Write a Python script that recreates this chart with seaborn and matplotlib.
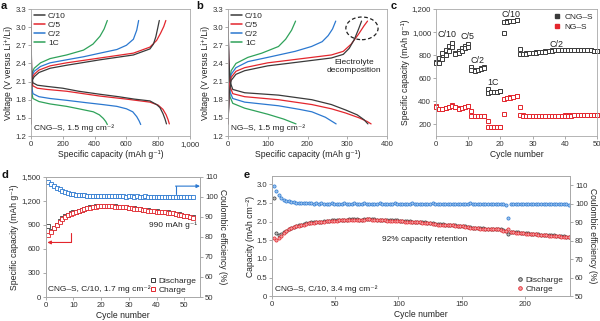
import numpy as np
import pandas as pd
import matplotlib
matplotlib.use("Agg")
import matplotlib.pyplot as plt
import seaborn as sns
from matplotlib.lines import Line2D
from matplotlib.patches import Ellipse
from matplotlib.ticker import FuncFormatter, MultipleLocator

# ---------------- DATA ----------------
RATES = ["C/10", "C/5", "C/2", "1C"]

# Panel a (CNG-S) voltage profiles: (capacity mAh/g, voltage V)
A_C10_DIS = [(0,3.10),(2,2.60),(5,2.20),(12,2.08),(40,2.04),(100,2.02),(200,1.99),(300,1.94),(434,1.89),(550,1.85),(650,1.81),(748,1.78),(790,1.72),(811,1.67),(830,1.57),(843,1.48),(852,1.40)]
A_C5_DIS = [(0,3.10),(2,2.55),(5,2.12),(12,2.03),(40,1.99),(100,1.97),(224,1.94),(434,1.86),(600,1.81),(748,1.76),(800,1.71),(830,1.64),(850,1.55),(862,1.47),(870,1.40)]
A_C2_DIS = [(0,3.10),(2,2.45),(5,2.00),(12,1.90),(50,1.85),(120,1.82),(224,1.79),(350,1.75),(450,1.72),(540,1.69),(600,1.65),(640,1.60),(665,1.52),(680,1.45),(690,1.39)]
A_1C_DIS = [(0,3.10),(2,2.40),(5,1.92),(12,1.82),(50,1.77),(120,1.73),(224,1.69),(300,1.65),(392,1.60),(430,1.55),(455,1.49),(470,1.44),(480,1.39)]
A_C10_CHG = [(0,1.40),(3,1.95),(8,2.12),(20,2.18),(50,2.25),(120,2.32),(224,2.37),(434,2.46),(644,2.54),(748,2.64),(770,2.72),(785,2.84),(795,2.96),(807,3.11)]
A_C5_CHG = [(0,1.40),(3,2.00),(8,2.16),(20,2.22),(50,2.29),(120,2.36),(224,2.41),(434,2.49),(644,2.57),(748,2.67),(790,2.78),(815,2.90),(835,3.01),(848,3.11)]
A_C2_CHG = [(0,1.40),(3,2.05),(8,2.20),(20,2.27),(60,2.35),(120,2.41),(224,2.46),(330,2.51),(434,2.57),(540,2.63),(600,2.70),(644,2.80),(665,2.95),(677,3.11)]
A_1C_CHG = [(0,1.40),(3,2.10),(8,2.25),(20,2.32),(60,2.41),(120,2.48),(224,2.54),(330,2.62),(390,2.72),(434,2.85),(460,2.97),(480,3.11)]

# Panel b (NG-S) voltage profiles
B_C10_DIS = [(0,3.10),(2,2.50),(5,2.10),(12,1.97),(42,1.915),(127,1.876),(211,1.80),(260,1.72),(296,1.63),(325,1.55),(342,1.47),(352,1.40)]
B_C5_DIS = [(0,3.10),(2,2.45),(5,2.02),(12,1.90),(42,1.85),(127,1.80),(211,1.72),(260,1.65),(296,1.58),(330,1.50),(350,1.44),(360,1.40)]
B_C2_DIS = [(0,3.10),(2,2.40),(5,1.93),(12,1.82),(42,1.76),(127,1.70),(180,1.64),(211,1.60),(245,1.51),(272,1.40)]
B_1C_DIS = [(0,3.10),(2,2.30),(5,1.85),(12,1.74),(42,1.66),(100,1.56),(140,1.48),(171,1.40)]
B_C10_CHG = [(0,1.40),(3,1.90),(8,2.12),(20,2.22),(42,2.28),(100,2.36),(150,2.40),(211,2.45),(260,2.49),(290,2.55),(305,2.65),(318,2.80),(328,2.96),(336,3.10)]
B_C5_CHG = [(0,1.40),(3,1.95),(8,2.17),(20,2.27),(42,2.33),(100,2.41),(150,2.45),(211,2.50),(260,2.54),(290,2.60),(310,2.72),(328,2.88),(342,3.02),(351,3.10)]
B_C2_CHG = [(0,1.40),(3,2.00),(8,2.22),(20,2.33),(50,2.43),(100,2.50),(169,2.60),(210,2.68),(237,2.76),(252,2.86),(263,2.97),(271,3.10)]
B_1C_CHG = [(0,1.40),(3,2.05),(8,2.28),(20,2.40),(50,2.50),(85,2.57),(127,2.68),(145,2.80),(160,2.95),(170,3.10)]

# Panel c: rate capability, cycles 0..50
C_CYCLES = list(range(0, 51))
C_CNG_DIS = [740,775,815,845,880,905, 815,840,860,880,895, 695,670,675,685,695, 505,480,482,485,490,
             1085,1095,1098,1100,1105,
             855,810,815,820,822,825,828,830,833,838,842,845,846,847,847,847,847,846,846,846,845,844,842,840,838]
C_CNG_CHG = [735,730,765,805,840,870, 810,820,840,860,875, 668,665,672,680,690, 475,478,480,483,488,
             990,1090,1095,1098,1102,
             810,808,813,818,820,823,826,828,831,836,840,843,845,846,846,846,846,845,845,845,844,843,841,839,837]
C_NG_DIS = [358,335,335,345,355,365, 355,340,345,350,358, 318,272,270,270,271, 226,177,175,175,175,
            420,430,435,440,445,
            355,278,275,275,275,275,276,276,276,276,277,277,277,277,278,278,278,279,279,279,280,280,280,281,281]
C_NG_CHG = [355,332,333,343,352,362, 352,338,343,348,356, 275,270,269,269,270, 178,175,174,174,174,
            290,428,433,438,443,
            280,276,274,274,274,274,275,275,275,275,276,276,276,276,277,277,277,278,278,278,279,279,279,280,280]
C_RATE_LABELS = [("C/10", 3.4, 975), ("C/5", 9.8, 960), ("C/2", 12.9, 755), ("1C", 17.7, 560),
                 ("C/10", 23.3, 1155), ("C/2", 37.3, 895)]

# Panel d: cycling 1.7 mg/cm2, cycles 1..53
D_CHG = [775,815,855,895,935,970,1000,1020,1035,1050,
         1062,1075,1088,1098,1108,1115,1122,1128,1133,1136,
         1138,1138,1135,1132,1128,1125,1122,1120,1117,1112,
         1108,1102,1097,1092,1088,1082,1077,1073,1069,1066,
         1062,1058,1055,1052,1048,1042,1035,1028,1020,1012,
         1004,997,990]
D_DIS = [890,825,860,900,945,980,1008,1028,1042,1055,
         1066,1078,1090,1100,1110,1117,1124,1130,1135,1138,
         1140,1140,1137,1134,1130,1127,1124,1122,1119,1114,
         1110,1104,1099,1094,1090,1084,1079,1075,1071,1068,
         1064,1060,1057,1054,1050,1044,1037,1030,1022,1014,
         1006,999,992]
D_CE = [107.2,106.3,105.4,104.6,103.8,103.1,102.5,102.0,101.6,101.3,
        101.1,100.9,100.8,100.7,100.6,100.5,100.5,100.4,100.4,100.3,
        100.3,100.3,100.2,100.3,100.2,100.2,100.3,100.2,100.1,100.2,
        100.2,100.1,100.2,100.1,100.1,100.2,100.1,100.0,100.1,100.1,
        100.0,100.1,100.0,100.0,100.1,99.9,100.0,99.9,100.0,99.9,
        99.9,100.0,99.9]

# Panel e: cycling 3.4 mg/cm2, every second cycle 1,3,...,235
E_CHG = [1.55,1.50,1.55,1.62,1.70,1.75,1.79,1.82,1.85,1.87,
         1.89,1.91,1.92,1.94,1.96,1.97,1.97,1.98,1.98,1.99,
         2.00,2.01,2.01,2.02,2.02,2.02,2.03,2.03,2.04,2.04,
         2.05,2.05,2.05,2.05,2.04,2.04,2.05,2.06,2.06,2.05,
         2.05,2.04,2.04,2.03,2.03,2.02,2.02,2.02,2.02,2.02,
         2.01,2.01,2.00,2.00,2.00,1.99,1.99,1.98,1.98,1.97,
         1.97,1.96,1.95,1.94,1.93,1.92,1.92,1.92,1.91,1.91,
         1.90,1.90,1.89,1.88,1.88,1.87,1.86,1.85,1.84,1.83,
         1.82,1.82,1.81,1.81,1.80,1.80,1.80,1.80,1.80,1.79,
         1.78,1.76,1.74,1.80,1.72,1.71,1.70,1.70,1.69,1.69,
         1.68,1.68,1.67,1.67,1.66,1.65,1.64,1.63,1.63,1.62,
         1.62,1.62,1.61,1.61,1.60,1.60,1.59,1.59]
E_DIS = [2.62,1.70,1.64,1.66,1.71,1.76,1.80,1.83,1.86,1.88,
         1.90,1.92,1.93,1.95,1.97,1.98,1.98,1.99,1.99,2.00,
         2.01,2.02,2.02,2.03,2.03,2.03,2.04,2.04,2.05,2.05,
         2.06,2.06,2.06,2.06,2.05,2.05,2.06,2.07,2.07,2.06,
         2.06,2.05,2.05,2.04,2.04,2.03,2.03,2.03,2.03,2.03,
         2.02,2.02,2.01,2.01,2.01,2.00,2.00,1.99,1.99,1.98,
         1.98,1.97,1.96,1.95,1.94,1.93,1.93,1.93,1.92,1.92,
         1.91,1.91,1.90,1.89,1.89,1.88,1.87,1.86,1.85,1.84,
         1.83,1.83,1.82,1.82,1.81,1.81,1.81,1.81,1.81,1.80,
         1.79,1.77,1.75,1.68,1.73,1.72,1.71,1.71,1.70,1.70,
         1.69,1.69,1.68,1.68,1.67,1.66,1.65,1.64,1.64,1.63,
         1.63,1.63,1.62,1.62,1.61,1.61,1.60,1.60]
E_CE = [109.5,107.0,104.5,103.2,102.3,101.7,101.3,101.0,100.8,100.6,
        100.5,100.4,100.3,100.3,100.2,100.2,100.1,100.2,100.1,100.2,
        100.1,100.0,100.1,100.2,100.1,100.0,100.1,100.1,100.2,100.1,
        100.0,100.1,100.3,100.1,100.0,100.1,100.2,100.1,100.0,100.1,
        100.1,100.0,100.2,100.1,100.0,100.1,100.1,100.0,100.2,100.1,
        100.0,100.1,100.1,100.0,100.1,100.2,100.0,100.1,100.1,100.0,
        100.1,100.0,100.1,100.2,100.1,100.0,100.1,100.0,100.1,100.0,
        100.1,100.1,100.0,100.1,100.0,100.1,100.0,100.1,100.2,100.0,
        100.1,100.0,100.1,100.0,100.1,100.0,100.1,100.0,100.1,100.0,
        100.0,100.1,99.6,92.4,99.8,99.9,100.0,100.1,100.0,100.0,
        100.1,100.0,99.9,100.0,100.1,100.0,99.9,100.0,100.0,99.9,
        100.0,99.9,99.9,100.0,99.8,99.9,99.7,99.6]

# ---------------- STYLE ----------------
sns.set_theme(style="white")
plt.rcParams["font.family"] = ["Liberation Sans", "DejaVu Sans"]
plt.rcParams.update({
    "axes.edgecolor": "#a8a8a8",
    "axes.linewidth": 0.6,
    "xtick.color": "#888888",
    "ytick.color": "#888888",
    "xtick.labelcolor": "#333333",
    "ytick.labelcolor": "#333333",
    "xtick.major.size": 2,
    "ytick.major.size": 2,
    "xtick.major.width": 0.5,
    "ytick.major.width": 0.5,
    "xtick.major.pad": 1.5,
    "ytick.major.pad": 1.5,
    "xtick.labelsize": 5.6,
    "ytick.labelsize": 5.6,
    "axes.labelsize": 6.2,
    "axes.labelcolor": "#222222",
    "axes.labelpad": 1.5,
    "xtick.bottom": True,
    "ytick.left": True,
})

COLORS = {"C/10": "#3a3a3a", "C/5": "#e3262d", "C/2": "#2b78d0", "1C": "#2fa25a"}
BLACK = "#3a3a3a"
RED = "#e3262d"
BLUE = "#2b78d0"

W, H = 600, 321
fig = plt.figure(figsize=(W / 100, H / 100), dpi=100)


def axes_px(left, top, right, bottom):
    return fig.add_axes([left / W, (H - bottom) / H, (right - left) / W, (bottom - top) / H])


comma = FuncFormatter(lambda v, p: f"{v:,.0f}")
TXT = 6.0


def voltage_panel(ax, curves, xmax, xstep, note):
    rows = []
    for rate, (dis, chg) in curves.items():
        for branch, pts in (("dis", dis), ("chg", chg)):
            for cap, v in pts:
                rows.append({"cap": cap, "V": v, "rate": rate, "branch": branch})
    df = pd.DataFrame(rows)
    for rate in RATES[::-1]:
        for branch in ("dis", "chg"):
            sub = df[(df.rate == rate) & (df.branch == branch)]
            sns.lineplot(data=sub, x="cap", y="V", sort=False, estimator=None,
                         color=COLORS[rate], lw=0.9, ax=ax, legend=False)
    ax.set_xlim(0, xmax)
    ax.set_ylim(1.2, 3.3)
    ax.xaxis.set_major_locator(MultipleLocator(xstep))
    ax.xaxis.set_major_formatter(comma)
    ax.set_yticks(np.arange(1.2, 3.31, 0.3))
    ax.yaxis.set_major_formatter(FuncFormatter(lambda v, p: f"{v:.1f}"))
    ax.set_xlabel("Specific capacity (mAh g\u207b\u00b9)")
    ax.set_ylabel("Voltage (V versus Li\u207a/Li)")
    handles = [Line2D([], [], color=COLORS[r], lw=1.1) for r in RATES]
    ax.legend(handles, RATES, loc="upper left", frameon=False, fontsize=TXT,
              handlelength=1.3, handletextpad=0.4, labelspacing=0.15,
              borderaxespad=0.15, borderpad=0.2)
    ax.text(0.02, 0.03, note, transform=ax.transAxes, fontsize=TXT, color="#222222",
            ha="left", va="bottom")


# ---------- a ----------
ax_a = axes_px(31, 9, 190, 136)
voltage_panel(ax_a, {"C/10": (A_C10_DIS, A_C10_CHG), "C/5": (A_C5_DIS, A_C5_CHG),
                     "C/2": (A_C2_DIS, A_C2_CHG), "1C": (A_1C_DIS, A_1C_CHG)},
              1000, 200, "CNG\u2013S, 1.5 mg cm\u207b\u00b2")

# ---------- b ----------
ax_b = axes_px(228, 9, 387, 136)
voltage_panel(ax_b, {"C/10": (B_C10_DIS, B_C10_CHG), "C/5": (B_C5_DIS, B_C5_CHG),
                     "C/2": (B_C2_DIS, B_C2_CHG), "1C": (B_1C_DIS, B_1C_CHG)},
              400, 100, "NG\u2013S, 1.5 mg cm\u207b\u00b2")
ax_b.add_patch(Ellipse((337, 2.98), 81, 0.375, fill=False, ls=(0, (3, 2)), lw=0.9, ec="#222222"))
ax_b.text(317, 2.47, "Electrolyte\ndecomposition", fontsize=TXT, ha="center", va="top",
          color="#222222", linespacing=1.1)

# ---------- c ----------
ax_c = axes_px(436, 9, 597, 136)
for vals, col in ((C_NG_DIS, RED), (C_NG_CHG, RED), (C_CNG_DIS, BLACK), (C_CNG_CHG, BLACK)):
    sns.lineplot(x=C_CYCLES, y=vals, ax=ax_c, estimator=None, sort=False, color=col,
                 linestyle="none", marker="s", markersize=2.6, markerfacecolor="white",
                 markeredgecolor=col, markeredgewidth=0.7, legend=False, clip_on=False)
ax_c.set_xlim(0, 50)
ax_c.set_ylim(100, 1200)
ax_c.set_xticks(range(0, 51, 10))
ax_c.set_yticks(range(200, 1201, 200))
ax_c.yaxis.set_major_formatter(comma)
ax_c.set_xlabel("Cycle number")
ax_c.set_ylabel("Specific capacity (mAh g\u207b\u00b9)")
for lab, xx, yy in C_RATE_LABELS:
    ax_c.text(xx, yy, lab, fontsize=6.4, ha="center", va="center", color="#222222")
h_c = [Line2D([], [], ls="none", marker="s", ms=2.8, color=BLACK),
       Line2D([], [], ls="none", marker="s", ms=2.8, color=RED)]
ax_c.legend(h_c, ["CNG\u2013S", "NG\u2013S"], loc="upper right", frameon=False, fontsize=TXT,
            handlelength=0.8, handletextpad=0.5, labelspacing=0.2, borderaxespad=0.3,
            borderpad=0.2)

# ---------- d ----------
ax_d = axes_px(45.7, 176.7, 200, 297)
ax_d2 = ax_d.twinx()
d_cyc = list(range(1, len(D_CHG) + 1))
sns.lineplot(x=d_cyc, y=D_DIS, ax=ax_d, estimator=None, sort=False, linestyle="none",
             marker="s", markersize=2.6, markerfacecolor="white", markeredgecolor=BLACK,
             markeredgewidth=0.6, color=BLACK, legend=False)
sns.lineplot(x=d_cyc, y=D_CHG, ax=ax_d, estimator=None, sort=False, linestyle="none",
             marker="s", markersize=2.6, markerfacecolor="white", markeredgecolor=RED,
             markeredgewidth=0.6, color=RED, legend=False)
sns.lineplot(x=d_cyc, y=D_CE, ax=ax_d2, estimator=None, sort=False, linestyle="none",
             marker="s", markersize=2.6, markerfacecolor="white", markeredgecolor=BLUE,
             markeredgewidth=0.6, color=BLUE, legend=False)
ax_d.set_xlim(0, 55.7)
ax_d.set_ylim(0, 1500)
ax_d2.set_ylim(50, 110)
ax_d.set_xticks(range(0, 51, 10))
ax_d.set_yticks(range(0, 1501, 300))
ax_d.yaxis.set_major_formatter(comma)
ax_d2.set_yticks(range(50, 111, 10))
ax_d2.tick_params(axis="y", right=True, colors="#888888", labelcolor="#333333")
ax_d.set_xlabel("Cycle number")
ax_d.set_ylabel("Specific capacity (mAh g\u207b\u00b9)")
ax_d2.set_ylabel("Coulombic efficiency (%)", rotation=270, labelpad=7)
# arrows
ax_d.plot([9.2, 9.2], [800, 680], color=RED, lw=0.8)
ax_d.annotate("", xy=(0.6, 680), xytext=(9.25, 680),
              arrowprops=dict(arrowstyle="-|>", color=RED, lw=0.8, mutation_scale=5,
                              shrinkA=0, shrinkB=0))
ax_d2.plot([46.9, 46.9], [101.2, 105.3], color=BLUE, lw=0.8)
ax_d2.annotate("", xy=(1.0, 105.3), xycoords=("axes fraction", "data"),
               xytext=(46.85, 105.3), textcoords="data",
               arrowprops=dict(arrowstyle="-|>", color=BLUE, lw=0.8, mutation_scale=5,
                               shrinkA=0, shrinkB=0))
ax_d.text(54.8, 890, "990 mAh g\u207b\u00b9", fontsize=TXT, ha="right", va="center", color="#222222")
ax_d.text(0.015, 0.03, "CNG\u2013S, C/10, 1.7 mg cm\u207b\u00b2", transform=ax_d.transAxes,
          fontsize=TXT, ha="left", va="bottom", color="#222222")
h_d = [Line2D([], [], ls="none", marker="s", ms=2.6, mfc="white", mec=BLACK, mew=0.7),
       Line2D([], [], ls="none", marker="s", ms=2.6, mfc="white", mec=RED, mew=0.7)]
ax_d.legend(h_d, ["Discharge", "Charge"], loc="lower right", frameon=False, fontsize=TXT,
            handlelength=0.6, handletextpad=0.4, labelspacing=0.1, borderaxespad=0.2,
            borderpad=0.2)

# ---------- e ----------
ax_e = axes_px(272.3, 176, 570, 296.3)
ax_e2 = ax_e.twinx()
e_cyc = list(range(1, 2 * len(E_CHG), 2))
sns.lineplot(x=e_cyc, y=E_DIS, ax=ax_e, estimator=None, sort=False, linestyle="none",
             marker="o", markersize=2.3, markerfacecolor="#bdbdbd", markeredgecolor=BLACK,
             markeredgewidth=0.5, color=BLACK, legend=False)
sns.lineplot(x=e_cyc, y=E_CHG, ax=ax_e, estimator=None, sort=False, linestyle="none",
             marker="o", markersize=2.3, markerfacecolor="#f2a0a2", markeredgecolor=RED,
             markeredgewidth=0.5, color=RED, legend=False)
sns.lineplot(x=e_cyc, y=E_CE, ax=ax_e2, estimator=None, sort=False, linestyle="none",
             marker="o", markersize=2.3, markerfacecolor="#9cc3ee", markeredgecolor=BLUE,
             markeredgewidth=0.5, color=BLUE, legend=False)
ax_e.set_xlim(0, 236)
ax_e.set_ylim(0, 3.22)
ax_e2.set_ylim(50, 115)
ax_e.set_xticks(range(0, 201, 50))
ax_e.set_yticks(np.arange(0, 3.01, 0.5))
ax_e.yaxis.set_major_formatter(FuncFormatter(lambda v, p: "0" if v == 0 else f"{v:.1f}"))
ax_e2.set_yticks(range(50, 111, 10))
ax_e2.tick_params(axis="y", right=True, colors="#888888", labelcolor="#333333")
ax_e.set_xlabel("Cycle number")
ax_e.set_ylabel("Capacity (mAh cm\u207b\u00b2)")
ax_e2.set_ylabel("Coulombic efficiency (%)", rotation=270, labelpad=7)
ax_e.text(121, 1.52, "92% capacity retention", fontsize=TXT, ha="center", va="center", color="#222222")
ax_e.text(0.01, 0.03, "CNG\u2013S, C/10, 3.4 mg cm\u207b\u00b2", transform=ax_e.transAxes,
          fontsize=TXT, ha="left", va="bottom", color="#222222")
h_e = [Line2D([], [], ls="none", marker="o", ms=2.6, mfc="#bdbdbd", mec=BLACK, mew=0.6),
       Line2D([], [], ls="none", marker="o", ms=2.6, mfc="#f2a0a2", mec=RED, mew=0.6)]
ax_e.legend(h_e, ["Discharge", "Charge"], loc="lower right", frameon=False, fontsize=TXT,
            handlelength=0.6, handletextpad=0.4, labelspacing=0.1, borderaxespad=0.2,
            borderpad=0.2, bbox_to_anchor=(0.99, 0.0))

for ax in (ax_a, ax_b, ax_c, ax_d, ax_e, ax_d2, ax_e2):
    for s in ax.spines.values():
        s.set_color("#a8a8a8")
        s.set_linewidth(0.6)

# panel letters
for lab, xp, yp in (("a", 1, 1), ("b", 196, 1), ("c", 391, 1), ("d", 1, 170), ("e", 244, 170)):
    fig.text(xp / W, 1 - yp / H, lab, fontsize=8, fontweight="bold", ha="left", va="top",
             color="#111111")

fig.savefig("out.png", dpi=100)
